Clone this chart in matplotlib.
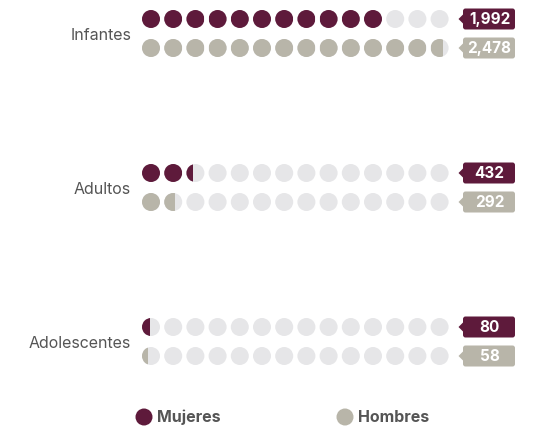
import matplotlib.pyplot as plt
from matplotlib.patches import Circle, Rectangle, FancyBboxPatch, Polygon

# Data
categories = ['Infantes', 'Adultos', 'Adolescentes']
mujeres = [1992, 432, 80]
hombres = [2478, 292, 58]
series_names = ['Mujeres', 'Hombres']
dot_value = 181  # value represented by one dot
n_dots = 14

col_muj = '#5e1a3b'
col_hom = '#b8b5a9'
col_empty = '#e6e6e8'
col_text = '#555555'
colors = [col_muj, col_hom]

plt.rcParams['font.family'] = ['Inter', 'DejaVu Sans']

fig = plt.figure(figsize=(5.35, 4.28), dpi=100)
ax = fig.add_axes([0, 0, 1, 1])
ax.set_xlim(0, 535)
ax.set_ylim(428, 0)
ax.axis('off')

x0, step, r = 151, 22.2, 9
y_top, group_gap, row_gap = 19, 154, 29

for g, cat in enumerate(categories):
    yg = y_top + g * group_gap
    ax.text(131, yg + row_gap / 2 + 2, cat, ha='right', va='center',
            fontsize=11.5, color=col_text)
    for s, vals in enumerate([mujeres, hombres]):
        y = yg + s * row_gap
        units = vals[g] / dot_value
        for i in range(n_dots):
            cx = x0 + i * step
            ax.add_patch(Circle((cx, y), r, color=col_empty, lw=0))
            frac = min(max(units - i, 0), 1)
            if frac > 0:
                clip = Circle((cx, y), r, transform=ax.transData)
                rect = Rectangle((cx - r, y - r), 2 * r * frac, 2 * r,
                                 color=colors[s], lw=0)
                ax.add_patch(rect)
                rect.set_clip_path(clip)
        # value tag
        bx, bw, bh = 463, 52, 21
        ax.add_patch(FancyBboxPatch((bx, y - bh / 2), bw, bh,
                                    boxstyle='round,pad=0,rounding_size=2.5',
                                    color=colors[s], lw=0))
        ax.add_patch(Polygon([[bx + 0.5, y - 5], [bx - 4.5, y], [bx + 0.5, y + 5]],
                             closed=True, color=colors[s], lw=0))
        ax.text(bx + bw / 2 + 0.5, y + 0.5, f'{vals[g]:,}', ha='center', va='center',
                fontsize=11, fontweight='bold', color='white')

# legend
for k, name in enumerate(series_names):
    lx = 144 + k * 201
    ax.add_patch(Circle((lx, 417), 8.5, color=colors[k], lw=0))
    ax.text(lx + 13, 417.5, name, ha='left', va='center', fontsize=11.5,
            fontweight='bold', color=col_text)

plt.savefig('out.png', dpi=100)
